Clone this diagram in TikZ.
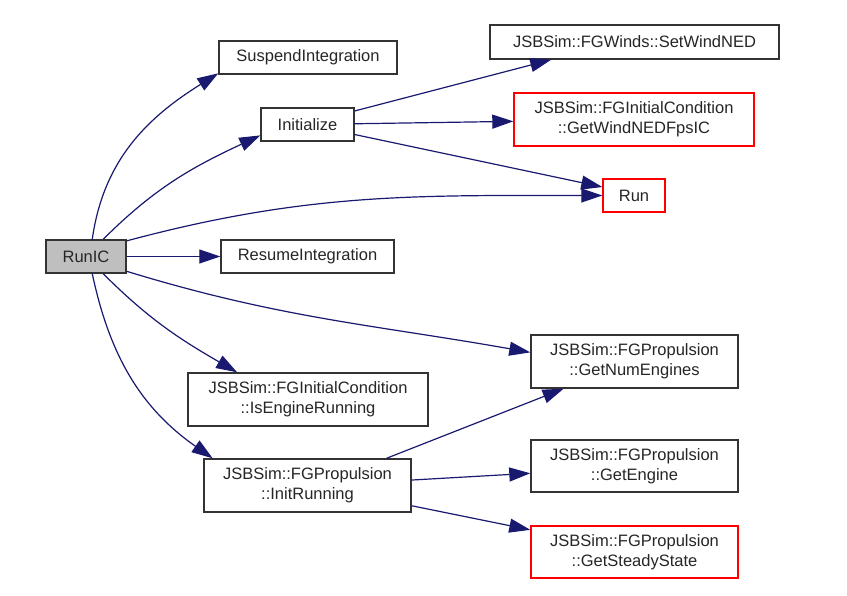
\documentclass[tikz,border=0pt]{standalone}
\usepackage{fontspec}
\setmainfont{Liberation Sans}
\usetikzlibrary{arrows.meta}
\definecolor{edgecol}{HTML}{191970}
\definecolor{boxline}{HTML}{333333}
\definecolor{redline}{HTML}{FF0000}
\definecolor{grayfill}{HTML}{BFBFBF}
\begin{document}
\begin{tikzpicture}[x=1pt,y=1pt,
  box/.style={draw=boxline, line width=1.4pt, fill=white, inner sep=0pt, align=center,
    font=\fontsize{16.5}{20}\selectfont, text=black!85},
  redbox/.style={box, draw=redline},
  edge/.style={draw=edgecol, line width=1.2pt, -{Triangle[length=21pt,width=14pt]}}]
\useasboundingbox (0,0) rectangle (847,-596);
\fill[white] (0,0) rectangle (847,-596);
% nodes
\node[box, fill=grayfill, minimum width=80pt, minimum height=33pt] (runic) at (86,-256.5) {RunIC};
\node[box, minimum width=178pt, minimum height=33pt] (suspend) at (308,-57.5) {SuspendIntegration};
\node[box, minimum width=93pt, minimum height=33pt] (init) at (307.5,-124.5) {Initialize};
\node[box, minimum width=173pt, minimum height=33pt] (resume) at (307.5,-256.5) {ResumeIntegration};
\node[box, minimum width=240pt, minimum height=53pt] (isengine) at (308,-399.5) {JSBSim::FGInitialCondition\\::IsEngineRunning};
\node[box, minimum width=207pt, minimum height=53pt] (initrun) at (307.5,-485.5) {JSBSim::FGPropulsion\\::InitRunning};
\node[box, minimum width=289pt, minimum height=34pt] (setwind) at (634.5,-42) {JSBSim::FGWinds::SetWindNED};
\node[redbox, minimum width=240pt, minimum height=53pt] (getwind) at (634,-119.5) {JSBSim::FGInitialCondition\\::GetWindNEDFpsIC};
\node[redbox, minimum width=62pt, minimum height=33pt] (run) at (634,-195.5) {Run};
\node[box, minimum width=207pt, minimum height=53pt] (getnum) at (634.5,-361.5) {JSBSim::FGPropulsion\\::GetNumEngines};
\node[box, minimum width=207pt, minimum height=52pt] (getengine) at (634.5,-466) {JSBSim::FGPropulsion\\::GetEngine};
\node[redbox, minimum width=207pt, minimum height=52pt] (getsteady) at (634.5,-552) {JSBSim::FGPropulsion\\::GetSteadyState};
% edges
\draw[edge] (runic.70) to[out=82,in=212] (suspend.190);
\draw[edge] (runic.45) to[out=45,in=205] (init.193);
\draw[edge] (runic.21) to[out=15,in=180] (run.west);
\draw[edge] (runic) -- (resume);
\draw[edge] (runic.-20) to[out=-17,in=170] (getnum.175);
\draw[edge] (runic.-45) to[out=-45,in=150] (isengine.159.5);
\draw[edge] (runic.-70) to[out=-78,in=145] (initrun.164.5);
\draw[edge] (init.16) -- (setwind.192.5);
\draw[edge] (init) -- (getwind);
\draw[edge] (init.-12) -- (run.165);
\draw[edge] (initrun.19) -- (getnum.201.7);
\draw[edge] (initrun.3.5) -- (getengine.184);
\draw[edge] (initrun.-11.7) -- (getsteady.168.5);
\end{tikzpicture}
\end{document}
